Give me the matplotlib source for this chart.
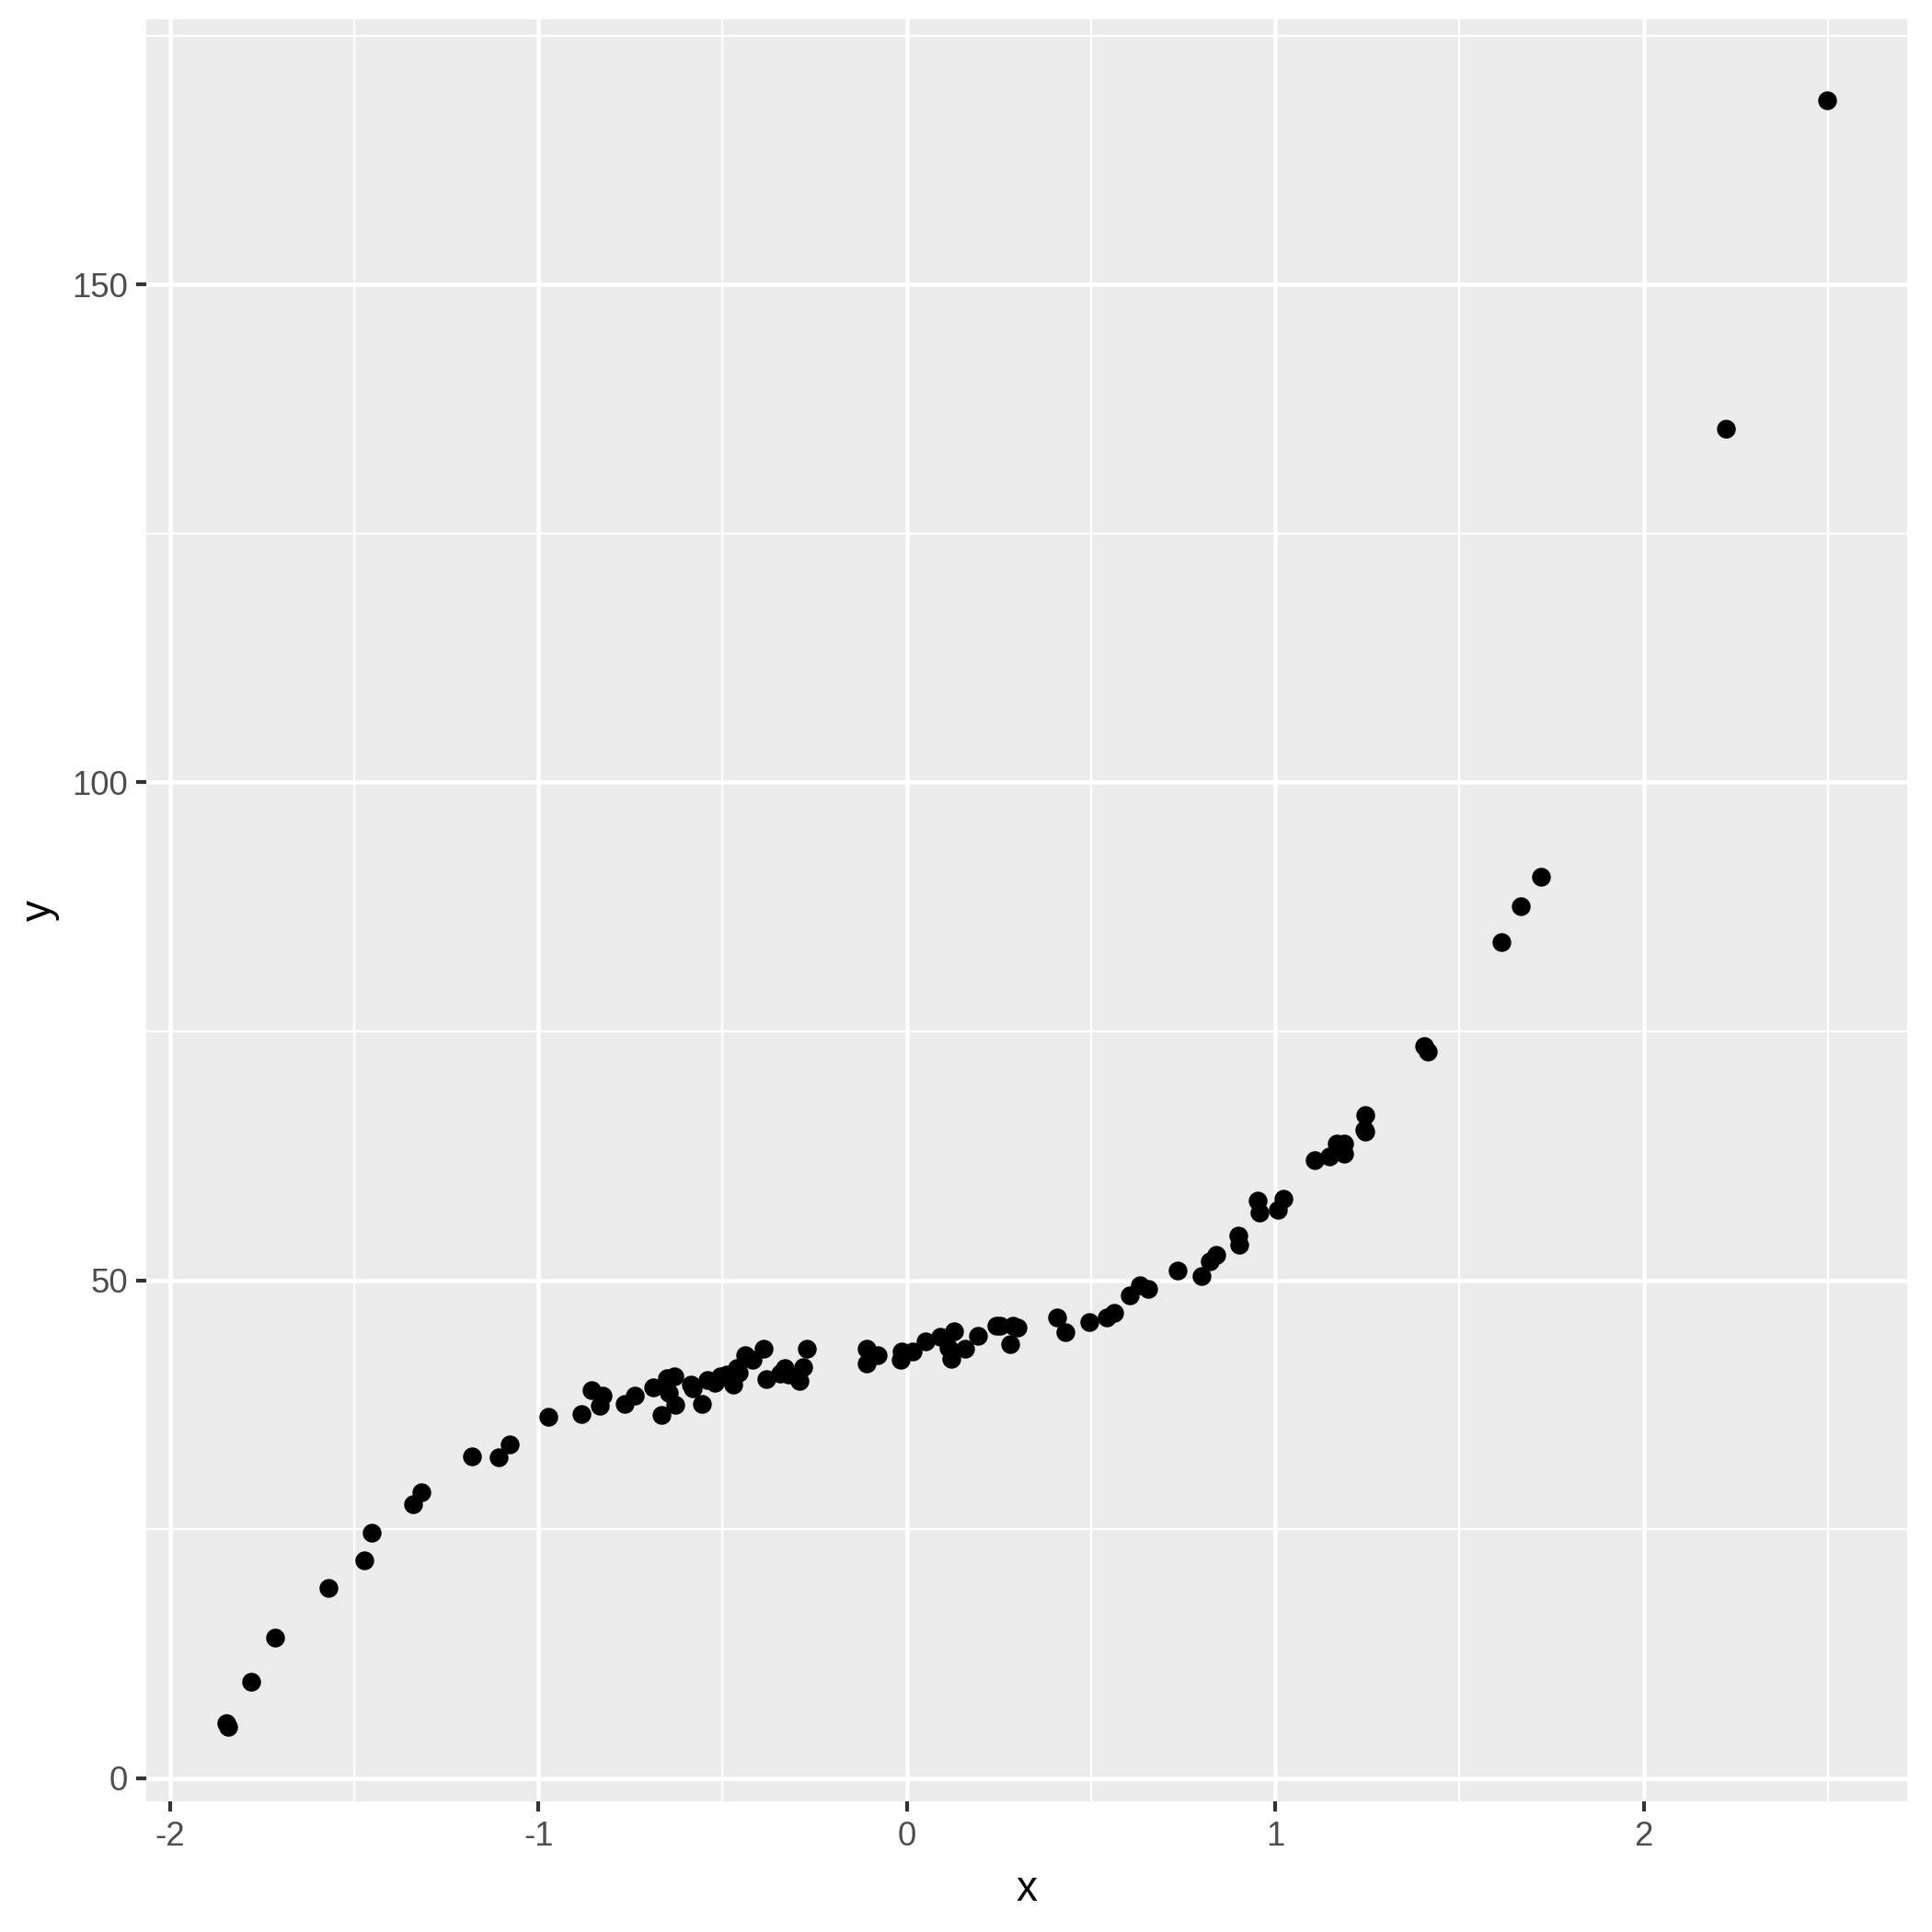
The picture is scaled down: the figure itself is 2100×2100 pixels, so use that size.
"""
Scatter of y against x, drawn in the ggplot2 grey theme look.
Output: out.png (2100 x 2100)
"""

import numpy as np
import matplotlib
matplotlib.use("Agg")
import matplotlib.pyplot as plt
from matplotlib.ticker import MultipleLocator


# =========================================================
# Data
# =========================================================

x = [
    -1.847, -1.842, -1.779, -1.716, -1.569, -1.472, -1.452, -1.341, -1.318, -1.181,
    -1.107, -1.077, -0.973, -0.883, -0.856, -0.833, -0.826, -0.766, -0.739, -0.689,
    -0.666, -0.652, -0.645, -0.632, -0.629, -0.585, -0.582, -0.555, -0.542, -0.522,
    -0.505, -0.488, -0.472, -0.462, -0.455, -0.438, -0.418, -0.388, -0.381, -0.344,
    -0.331, -0.321, -0.291, -0.281, -0.271, -0.110, -0.110, -0.080, -0.017, -0.013,
    0.017, 0.050, 0.090, 0.114, 0.120, 0.127, 0.157, 0.194, 0.244, 0.254,
    0.281, 0.288, 0.301, 0.408, 0.431, 0.495, 0.542, 0.562, 0.605, 0.632,
    0.656, 0.736, 0.799, 0.823, 0.839, 0.900, 0.903, 0.953, 0.957, 1.007,
    1.023, 1.107, 1.147, 1.167, 1.187, 1.187, 1.244, 1.241, 1.244, 1.405,
    1.415, 1.615, 1.666, 1.722, 2.224, 2.4985,
]

y = [
    5.5, 5.1, 9.65, 14.1, 19.06, 21.9, 24.6, 27.5, 28.7, 32.3,
    32.2, 33.5, 36.3, 36.6, 39.0, 37.4, 38.4, 37.6, 38.4, 39.2,
    36.5, 40.2, 38.7, 40.3, 37.5, 39.5, 39.1, 37.6, 40.0, 39.7,
    40.3, 40.5, 39.5, 41.2, 40.7, 42.5, 42.0, 43.1, 40.1, 40.6,
    41.2, 40.5, 39.9, 41.3, 43.1, 43.1, 41.6, 42.5, 42.0, 42.8,
    42.8, 43.9, 44.3, 43.2, 42.1, 44.9, 43.1, 44.4, 45.4, 45.4,
    43.6, 45.4, 45.2, 46.3, 44.8, 45.8, 46.3, 46.7, 48.5, 49.5,
    49.1, 51.0, 50.4, 51.9, 52.5, 54.5, 53.6, 58.0, 56.8, 57.1,
    58.2, 62.1, 62.4, 63.7, 63.7, 62.7, 66.6, 65.1, 64.9, 73.5,
    73.0, 84.0, 87.6, 90.5, 135.5, 168.5,
]

# axis ranges as shown in the reference panel
x_limits = (-2.0635, 2.7157)
y_limits = (-2.35, 176.6)


# =========================================================
# Style (ggplot2 theme_grey look-alike)
# =========================================================

plt.rcParams["font.family"] = ["Liberation Sans", "DejaVu Sans"]
plt.rcParams["axes.unicode_minus"] = False

PANEL_BG = "#EBEBEB"
TICK_COLOR = "#333333"
LABEL_COLOR = "#4D4D4D"


# =========================================================
# Plot
# =========================================================

fig = plt.figure(figsize=(7, 7), dpi=300)
ax = fig.add_axes([0.0759, 0.0676, 0.9872 - 0.0759, 0.9898 - 0.0676])

ax.set_facecolor(PANEL_BG)
for spine in ax.spines.values():
    spine.set_visible(False)

ax.set_xlim(*x_limits)
ax.set_ylim(*y_limits)

ax.xaxis.set_major_locator(MultipleLocator(1))
ax.xaxis.set_minor_locator(MultipleLocator(0.5))
ax.yaxis.set_major_locator(MultipleLocator(50))
ax.yaxis.set_minor_locator(MultipleLocator(25))

ax.grid(which="major", color="white", linewidth=1.1)
ax.grid(which="minor", color="white", linewidth=0.55)
ax.set_axisbelow(True)

ax.tick_params(which="major", length=2.75, width=1.0, color=TICK_COLOR,
               labelsize=8.8, labelcolor=LABEL_COLOR, pad=2.2)
ax.tick_params(which="minor", length=0)

ax.scatter(x, y, s=24, color="black", linewidths=0, zorder=3)

ax.set_xlabel("x", fontsize=11, color="black", labelpad=4.5)
ax.set_ylabel("y", fontsize=11, color="black", labelpad=3)

fig.savefig("out.png", dpi=300, facecolor="white")
plt.close(fig)
